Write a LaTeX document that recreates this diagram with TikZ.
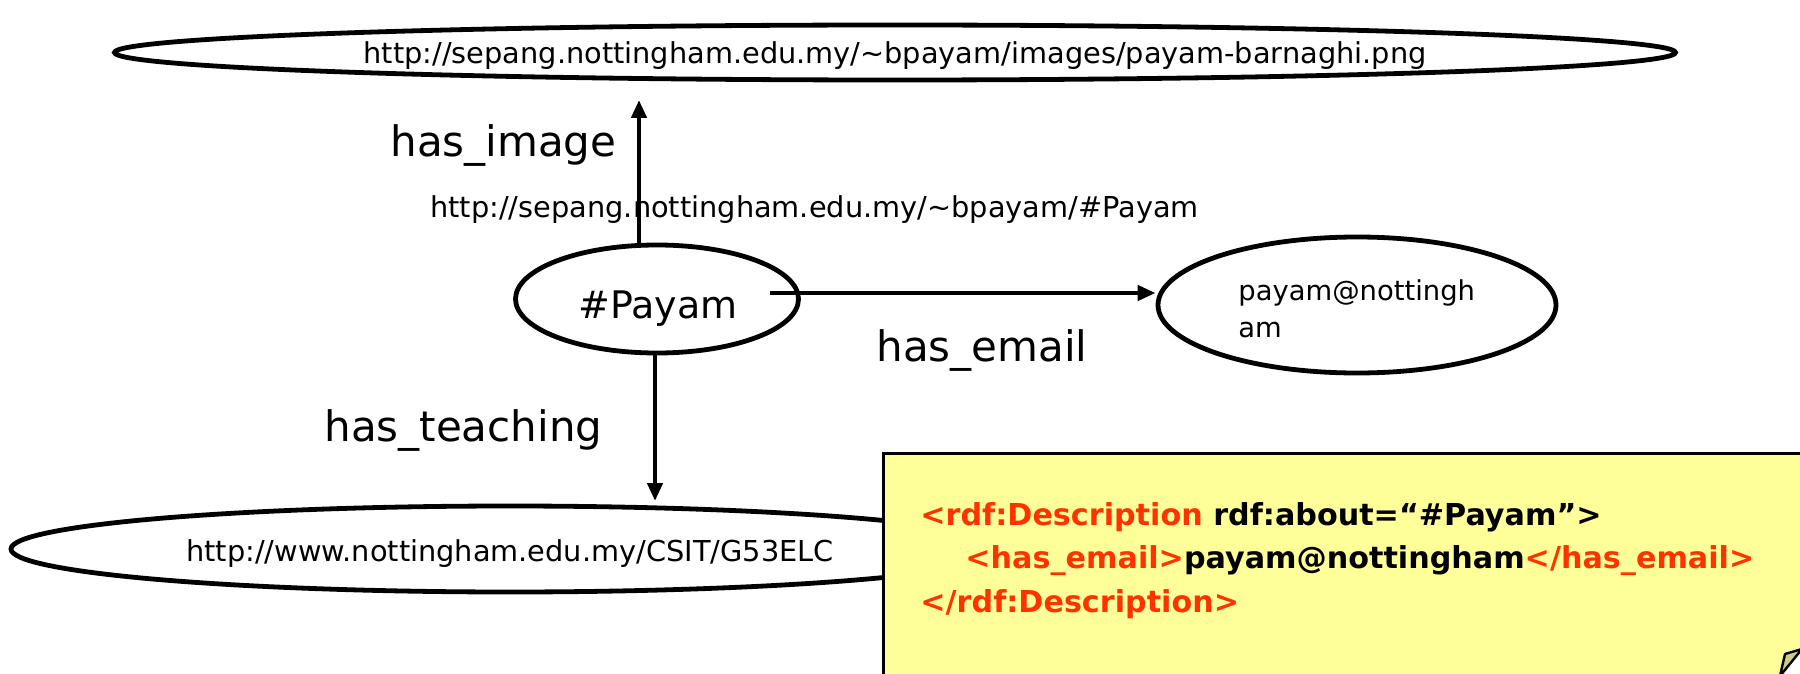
\documentclass[tikz,border=0pt]{standalone}
\usepackage{fontspec}
\setmainfont{DejaVu Sans}
\usetikzlibrary{shapes.geometric,arrows.meta}
\definecolor{xmlred}{RGB}{255,51,0}
\definecolor{noteyellow}{RGB}{255,255,153}
\definecolor{curlcol}{RGB}{204,204,136}
\begin{document}
\begin{tikzpicture}[x=0.5pt,y=-0.5pt,
  ell/.style={draw, ellipse, line width=2.4pt, inner sep=0pt},
  arr/.style={line width=2.2pt, -{Triangle[length=9pt,width=7.5pt]}},
  lbl/.style={inner sep=0pt, anchor=base west, font=\fontsize{21}{25}\selectfont},
  url/.style={inner sep=0pt, font=\fontsize{14.4}{17}\selectfont},
  xml/.style={inner sep=0pt, anchor=north west, align=left, font=\bfseries\fontsize{15.1}{21.75}\selectfont},
  notebox/.style={draw, fill=noteyellow, line width=1.6pt, rectangle, inner sep=0pt}]
\useasboundingbox (0,0) rectangle (1800,674);
\clip (0,0) rectangle (1800,674);

% resources
\node[ell, minimum width=780.5pt, minimum height=27.5pt] (img) at (895,52.5) {};
\node[url, anchor=base] (imgtxt) at (895,64) {http://sepang.nottingham.edu.my/\textasciitilde bpayam/images/payam-barnaghi.png};

\node[ell, minimum width=141.5pt, minimum height=54pt] (payam) at (657,299) {};
\node[inner sep=0pt, anchor=base west, font=\fontsize{19}{23}\selectfont] (payamtxt) at (578,318) {\#Payam};

\node[url, anchor=base west] (uri) at (430,218) {http://sepang.nottingham.edu.my/\textasciitilde bpayam/\#Payam};

\node[ell, minimum width=199pt, minimum height=68pt] (email) at (1357,305) {};
\node[inner sep=0pt, anchor=north west, align=left, font=\fontsize{13.7}{18.5}\selectfont] (emailtxt) at (1238,279) {payam@nottingh\\am};

\node[ell, minimum width=499pt, minimum height=43pt] (teach) at (510,549) {};
\node[url, anchor=base] (teachtxt) at (510,561) {http://www.nottingham.edu.my/CSIT/G53ELC};

% connectors
\coordinate (imgtip) at (639,100);
\draw[arr] (payam.north -| imgtip) -- (imgtip);
\coordinate (emailstart) at (770,293);
\draw[arr] (emailstart) -- (emailstart -| email.west);
\coordinate (teachtip) at (655,501);
\draw[arr] (payam.south -| teachtip) -- (teachtip);

% labels
\node[lbl] (limg) at (390,156) {has\_image};
\node[lbl] (lemail) at (876,361) {has\_email};
\node[lbl] (lteach) at (324,441) {has\_teaching};

% note
\node[notebox, anchor=north west, minimum width=500pt, minimum height=150pt] (note) at (882,452) {};
\node[xml] (notetxt) at (920,502) {{\color{xmlred}<rdf:Description} rdf:about=“\#Payam”>\\
\hspace*{22.5pt}{\color{xmlred}<has\_email>}payam@nottingham{\color{xmlred}</has\_email>}\\
{\color{xmlred}</rdf:Description>}};
\fill[white] (1780,674) -- (1800,649) -- (1802,676) -- cycle;
\filldraw[fill=curlcol, line width=1.2pt, line join=round] (1780,676) -- (1785,654) -- (1802,649) -- cycle;
\end{tikzpicture}
\end{document}
